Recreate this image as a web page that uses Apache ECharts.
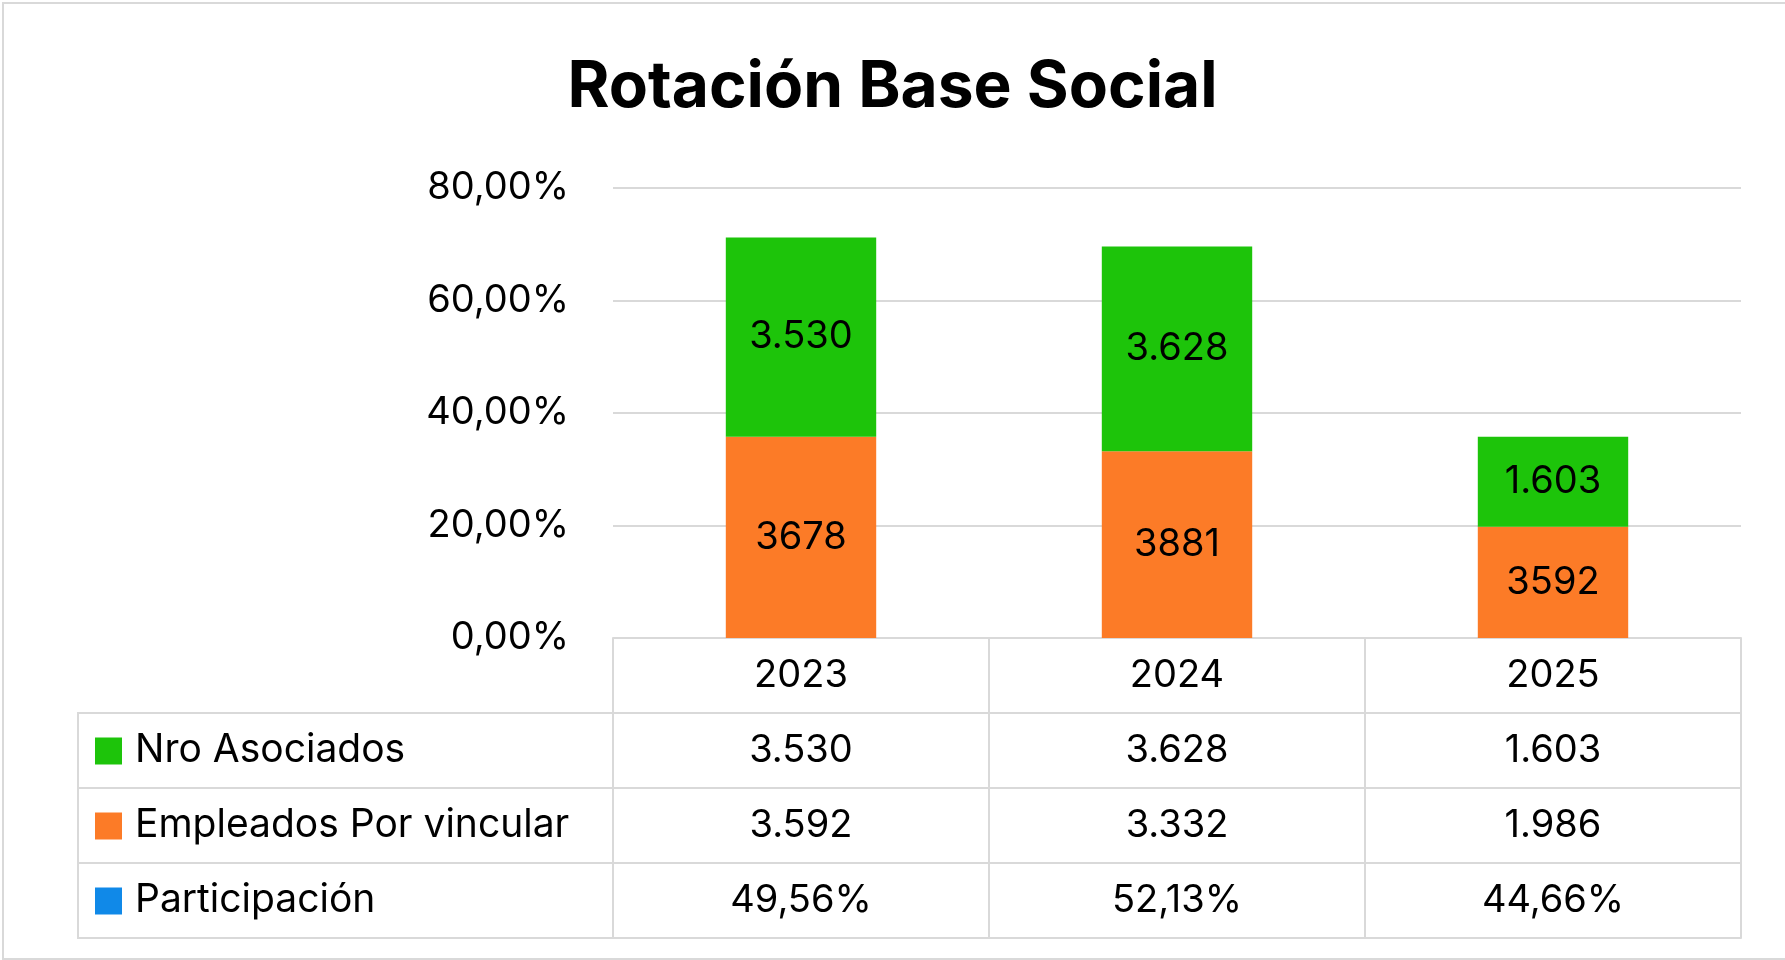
<!DOCTYPE html>
<html>
<head>
<meta charset="utf-8">
<title>Rotación Base Social</title>
<script src="https://cdn.jsdelivr.net/npm/echarts@6/dist/echarts.min.js"></script>
<style>
	html, body { margin: 0; padding: 0; background: #fff; }
	#chart { width: 1785px; height: 960px; }
</style>
</head>
<body>
<div id="chart"></div>
<script>
	// datos
	var years = ['2023', '2024', '2025'];
	var yTicks = [0, 20, 40, 60, 80];
	// alto de cada tramo de la barra (eje en %)
	var empleadosAltura = [35.8, 33.2, 19.8];
	var asociadosAltura = [35.4, 36.4, 16.0];
	// etiquetas que aparecen dentro de las barras
	var empleadosEtiqueta = ['3678', '3881', '3592'];
	var asociadosEtiqueta = ['3.530', '3.628', '1.603'];
	// tabla de datos
	var filas = ['Nro Asociados', 'Empleados Por vincular', 'Participación'];
	var asociadosTabla = ['3.530', '3.628', '1.603'];
	var empleadosTabla = ['3.592', '3.332', '1.986'];
	var participacionTabla = ['49,56%', '52,13%', '44,66%'];

	var colores = ['#1DC40A', '#FC7B27', '#1089E8'];
	var gris = '#D9D9D9';
	var fuente = 'Inter, "Noto Sans", sans-serif';

	var gridLeft = 613, gridRight = 1741, gridTop = 188, gridBottom = 638;
	var rowH = 75;
	var tablaLeft = 78;

	var myChart = echarts.init(document.getElementById('chart'));

	function rowAxis(data, offset) {
		return {
			type: 'category',
			position: 'bottom',
			offset: offset,
			data: data,
			axisLine: { show: true, lineStyle: { color: gris, width: 2 } },
			axisTick: { show: true, interval: 0, length: rowH, lineStyle: { color: gris, width: 2 } },
			axisLabel: {
				show: true, interval: 0, margin: rowH / 2, verticalAlign: 'middle',
				color: '#000', fontSize: 38, fontFamily: fuente
			},
			splitLine: { show: false }
		};
	}

	function tablaIzquierda() {
		var els = [];
		for (var i = 0; i < filas.length; i++) {
			var top = gridBottom + rowH * (i + 1);
			els.push({
				type: 'rect',
				shape: { x: tablaLeft, y: top, width: gridLeft - tablaLeft, height: rowH },
				style: { fill: 'none', stroke: gris, lineWidth: 2 }
			});
			// cuadro de leyenda
			els.push({
				type: 'rect',
				shape: { x: 95, y: top + rowH / 2 - 13, width: 27, height: 27 },
				style: { fill: colores[i] }
			});
			els.push({
				type: 'text',
				x: 135, y: top + rowH / 2,
				style: {
					text: filas[i], fill: '#000', fontSize: 39, fontFamily: fuente,
					verticalAlign: 'middle'
				}
			});
		}
		// marco exterior
		els.push({
			type: 'rect',
			shape: { x: 3, y: 3, width: 1800, height: 956 },
			style: { fill: 'none', stroke: gris, lineWidth: 2 }
		});
		return els;
	}

	var option = {
		backgroundColor: '#fff',
		animation: false,
		title: {
			text: 'Rotación Base Social',
			left: 'center',
			top: 51,
			textStyle: { fontSize: 64, fontWeight: 'bold', color: '#000', fontFamily: fuente }
		},
		grid: {
			left: gridLeft,
			right: 1785 - gridRight,
			top: gridTop,
			bottom: 960 - gridBottom
		},
		xAxis: [
			rowAxis(years, 0),
			rowAxis(asociadosTabla, rowH),
			rowAxis(empleadosTabla, rowH * 2),
			rowAxis(participacionTabla, rowH * 3),
			{
				type: 'category', position: 'bottom', offset: rowH * 4, data: years,
				axisLine: { show: true, lineStyle: { color: gris, width: 2 } },
				axisTick: { show: false }, axisLabel: { show: false }
			}
		],
		yAxis: {
			type: 'value',
			min: yTicks[0],
			max: yTicks[yTicks.length - 1],
			interval: yTicks[1] - yTicks[0],
			axisLine: { show: false },
			axisTick: { show: false },
			axisLabel: {
				margin: 44, color: '#000', fontSize: 38, fontFamily: fuente,
				formatter: function(v) { return v.toFixed(2).replace('.', ',') + '%'; }
			},
			splitLine: { lineStyle: { color: gris, width: 2 } }
		},
		series: [
			{
				name: 'Empleados Por vincular',
				type: 'bar',
				stack: 'total',
				barWidth: '40%',
				data: empleadosAltura,
				itemStyle: { color: colores[1] },
				label: {
					show: true, position: 'inside', color: '#000', fontSize: 38, fontFamily: fuente,
					formatter: function(p) { return empleadosEtiqueta[p.dataIndex]; }
				}
			},
			{
				name: 'Nro Asociados',
				type: 'bar',
				stack: 'total',
				barWidth: '40%',
				data: asociadosAltura,
				itemStyle: { color: colores[0] },
				label: {
					show: true, position: 'inside', color: '#000', fontSize: 38, fontFamily: fuente,
					formatter: function(p) { return asociadosEtiqueta[p.dataIndex]; }
				}
			}
		],
		graphic: tablaIzquierda()
	};

	myChart.setOption(option);
</script>
</body>
</html>
